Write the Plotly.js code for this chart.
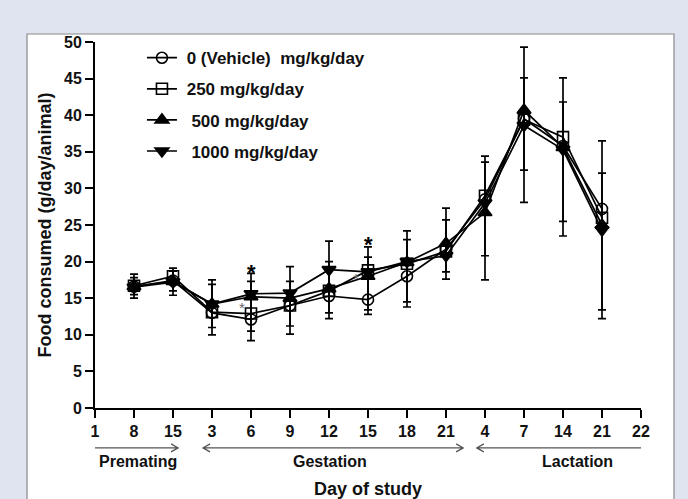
<!DOCTYPE html>
<html>
<head>
<meta charset="utf-8">
<script src="https://cdn.plot.ly/plotly-3.0.1.min.js"></script>
<style>html,body{margin:0;padding:0;background:#e0e4f0;}#chart{width:688px;height:499px;}</style>
</head>
<body>
<div id="chart"></div>
<script>
// ---- data ----
const xLabels = ['1','8','15','3','6','9','12','15','18','21','4','7','14','21','22'];
const seriesNames = ['\u00a00 (Vehicle)  mg/kg/day', '\u00a0250 mg/kg/day', '\u00a0\u00a0500 mg/kg/day', '\u00a0\u00a01000 mg/kg/day'];
const vehicle = [null,16.6,17.4,13.0,12.1,14.0,15.3,14.8,18.0,21.7,28.5,39.5,35.8,27.2,null];
const dose250 = [null,16.7,18.0,13.1,12.9,14.0,16.0,18.8,19.7,21.4,29.0,39.4,37.0,26.0,null];
const dose500 = [null,16.6,17.3,14.2,15.2,15.0,16.3,18.0,19.9,22.5,26.7,40.7,35.6,25.0,null];
const dose1000 = [null,16.5,17.2,14.2,15.6,15.7,18.9,18.6,20.0,20.8,28.0,38.6,35.3,24.3,null];
// error bar bounds (vehicle: outer bars, 1000: inner bars)
const vehicleHi = [null,18.3,19.1,17.5,18.4,19.3,22.8,22.0,24.2,27.3,34.4,49.3,45.1,36.5,null];
const vehicleLo = [null,15.0,15.4,10.0,9.2,10.1,12.2,12.8,13.8,17.6,17.5,28.1,23.5,12.2,null];
const dose1000Hi = [null,17.8,18.7,16.9,17.3,17.3,20.0,20.6,23.0,25.7,33.6,45.1,41.8,32.1,null];
const dose1000Lo = [null,15.5,16.0,11.0,10.5,11.2,13.0,13.4,14.5,18.6,20.8,32.5,25.5,13.4,null];
const yTicks = [0,5,10,15,20,25,30,35,40,45,50];
const phaseLabels = ['Premating','Gestation','Lactation'];

// ---- build ----
const xIdx = xLabels.map((_, i) => i);
const FONT = 'Arial, "Liberation Sans", sans-serif';
const diff = (a, b) => a.map((v, i) => (v == null || b[i] == null) ? null : +(v - b[i]).toFixed(2));

function trace(name, y, symbol, filled, group, err) {
  const t = {
    x: xIdx, y: y, name: name, type: 'scatter', mode: 'lines+markers',
    legendgroup: group, cliponaxis: false,
    line: {color: '#000', width: 1.7},
    marker: {symbol: symbol, size: symbol.indexOf('triangle') === 0 ? 12 : 11,
             color: filled ? '#000' : 'rgba(0,0,0,0)', line: {color: '#000', width: 1.6}}
  };
  if (err) {
    t.error_y = {type: 'data', symmetric: false, array: err[0], arrayminus: err[1],
                 color: '#000', thickness: 1.7, width: 4};
  }
  return t;
}

const data = [
  trace(seriesNames[0], vehicle, 'circle', false, 'g0', [diff(vehicleHi, vehicle), diff(vehicle, vehicleLo)]),
  trace(seriesNames[1], dose250, 'square', false, 'g1'),
  trace(seriesNames[2], dose500, 'triangle-up', true, 'g2'),
  trace(seriesNames[3], dose1000, 'triangle-down', true, 'g3', [diff(dose1000Hi, dose1000), diff(dose1000, dose1000Lo)])
];

// phase arrows (x in index units, y in paper units)
const phaseSpans = [[-0.31, 2.13], [2.77, 9.44], [9.79, 14.54]];
const phaseCenters = [1.10, 6.03, 12.36];
const arrowY = -0.109, hx = 0.18, hy = 0.011;
const shapes = [{
  type: 'rect', xref: 'paper', yref: 'paper', x0: -0.1245, x1: 1.0604, y0: -0.4, y1: 1.0219,
  fillcolor: '#ffffff', line: {color: '#8a8a8a', width: 1.2}, layer: 'below'
}];
phaseSpans.forEach(([a, b]) => {
  shapes.push({
    type: 'path', xref: 'x', yref: 'paper',
    path: `M${a},${arrowY} L${b},${arrowY} M${a + hx},${arrowY + hy} L${a},${arrowY} L${a + hx},${arrowY - hy} M${b - hx},${arrowY + hy} L${b},${arrowY} L${b - hx},${arrowY - hy}`,
    line: {color: '#555', width: 1.3}
  });
});

const annotations = phaseLabels.map((t, i) => ({
  text: t, x: phaseCenters[i], xref: 'x', y: -0.145, yref: 'paper', yanchor: 'middle', showarrow: false,
  font: {family: FONT, size: 16, color: '#111', weight: 'bold'}
}));
// significance marks
[[4, 19.3], [7, 23.1]].forEach(([x, y]) => annotations.push({
  text: '*', x: x, y: y, xref: 'x', yref: 'y', showarrow: false, yshift: -6,
  font: {family: FONT, size: 22, color: '#000', weight: 'bold'}
}));
[[3.77, 14.3], [6.7, 18.2]].forEach(([x, y]) => annotations.push({
  text: '*', x: x, y: y, xref: 'x', yref: 'y', showarrow: false, yshift: -4,
  font: {family: FONT, size: 15, color: '#666'}
}));

const axisCommon = {
  showline: true, linecolor: '#000', linewidth: 2, ticks: 'outside', tickwidth: 2,
  tickcolor: '#000', showgrid: false, zeroline: false,
  tickfont: {family: FONT, size: 16, color: '#111', weight: 'bold'}
};

const layout = {
  width: 688, height: 499,
  margin: {l: 95, r: 47, t: 42, b: 91},
  paper_bgcolor: '#e0e4f0', plot_bgcolor: 'rgba(0,0,0,0)',
  showlegend: true,
  legend: {x: 0.086, y: 1.005, xanchor: 'left', yanchor: 'top', bgcolor: 'rgba(0,0,0,0)',
           tracegroupgap: 6, font: {family: FONT, size: 17, color: '#111', weight: 'bold'}},
  xaxis: Object.assign({}, axisCommon, {
    range: [0, 14], tickmode: 'array', tickvals: xIdx, ticktext: xLabels, ticklen: 8,
    title: {text: 'Day of study', standoff: 45, font: {family: FONT, size: 18, color: '#111', weight: 'bold'}}
  }),
  yaxis: Object.assign({}, axisCommon, {
    range: [0, 50], tickmode: 'array', tickvals: yTicks, ticklen: 8,
    title: {text: 'Food consumed (g/day/animal)', standoff: 8, font: {family: FONT, size: 18, color: '#111', weight: 'bold'}}
  }),
  shapes: shapes,
  annotations: annotations
};

Plotly.newPlot('chart', data, layout, {displayModeBar: false, staticPlot: true});
</script>
</body>
</html>
